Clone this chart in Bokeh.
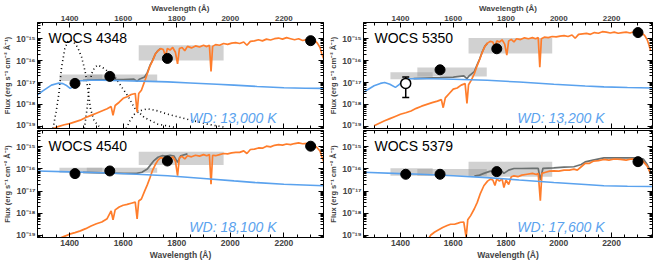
import numpy as np
from bokeh.plotting import figure
from bokeh.models import (Range1d, LinearAxis, LogAxis, FixedTicker,
                          CustomJSTickFormatter, Label)
from bokeh.layouts import column, row
from bokeh.embed import file_html
from bokeh.resources import INLINE

# ---------------- data ----------------
star_names = ["WOCS 4348", "WOCS 5350", "WOCS 4540", "WOCS 5379"]
wd_labels = ["WD: 13,000 K", "WD: 13,200 K", "WD: 18,100 K", "WD: 17,600 K"]

x_tick_labels = [1400, 1600, 1800, 2000, 2200]

# stellar model spectra (log10 flux)
wave_star = [1300, 1340, 1360, 1380, 1400, 1420, 1440, 1460, 1480, 1500,
             1520, 1540, 1555, 1562, 1570, 1585, 1600, 1615, 1630, 1645,
             1652, 1658, 1668, 1680, 1690, 1700, 1710, 1720, 1730, 1740,
             1750, 1758, 1765, 1775, 1785, 1795, 1803, 1810, 1820, 1830,
             1840, 1855, 1870, 1885, 1900, 1912, 1922, 1928, 1934, 1945,
             1960, 1975, 1990, 2005, 2020, 2035, 2050, 2062, 2075, 2090,
             2105, 2120, 2135, 2150, 2165, 2180, 2195, 2210, 2225, 2240,
             2255, 2270, 2285, 2300, 2315, 2325, 2335, 2342, 2348]
logf_star_4348 = [-19.5, -19.1, -19.0, -18.93, -18.88, -18.8, -18.72, -18.6, -18.5, -18.4,
                  -18.3, -18.2, -18.1, -18.5, -18.05, -17.9, -17.72, -17.65, -17.55, -17.5,
                  -18.35, -17.5, -17.35, -16.95, -16.6, -16.25, -16.0, -15.7, -15.55, -15.45,
                  -15.5, -15.8, -15.45, -15.52, -15.4, -15.62, -16.15, -15.45, -15.4, -15.55,
                  -15.35, -15.42, -15.33, -15.38, -15.3, -15.36, -15.3, -16.5, -15.35, -15.27,
                  -15.3, -15.22, -15.26, -15.2, -15.18, -15.22, -15.15, -15.3, -15.12, -15.1,
                  -15.05, -15.1, -15.02, -15.06, -15.0, -14.97, -15.02, -14.95, -15.0, -15.05,
                  -15.0, -15.08, -15.04, -15.12, -15.08, -15.2, -15.4, -15.7, -15.9]
logf_star_5350 = [-18.97, -18.75, -18.65, -18.55, -18.45, -18.38, -18.3, -18.18, -18.08, -18.0,
                  -17.92, -17.85, -17.78, -18.15, -17.7, -17.5, -17.3, -17.25, -17.12, -17.05,
                  -17.95, -17.1, -16.9, -16.6, -16.25, -15.95, -15.62, -15.35, -15.2, -15.12,
                  -15.15, -15.4, -15.1, -15.15, -15.05, -15.25, -15.75, -15.1, -15.03, -15.15,
                  -15.0, -15.04, -14.96, -15.0, -14.95, -15.0, -14.95, -16.3, -15.0, -14.93,
                  -14.95, -14.9, -14.92, -14.88, -14.86, -14.9, -14.83, -14.98, -14.8, -14.78,
                  -14.76, -14.8, -14.72, -14.75, -14.68, -14.7, -14.74, -14.7, -14.75, -14.72,
                  -14.7, -14.74, -14.68, -14.7, -14.75, -14.85, -15.05, -15.3, -15.55]
logf_star_4540 = [-19.6, -19.3, -19.15, -19.05, -18.95, -18.88, -18.8, -18.7, -18.58, -18.48,
                  -18.4, -18.25, -17.9, -18.3, -17.85, -17.72, -17.64, -17.6, -17.55, -17.5,
                  -18.26, -17.45, -17.36, -17.0, -16.72, -16.4, -16.05, -15.8, -15.6, -15.49,
                  -15.52, -15.8, -15.48, -15.55, -15.45, -15.65, -16.3, -15.48, -15.43, -15.55,
                  -15.4, -15.45, -15.38, -15.42, -15.35, -15.4, -15.35, -16.69, -15.38, -15.4,
                  -15.35, -15.3, -15.32, -15.27, -15.25, -15.25, -15.18, -15.3, -15.12, -15.1,
                  -15.05, -15.06, -14.97, -15.0, -14.93, -14.9, -14.92, -14.87, -14.9, -14.85,
                  -14.82, -14.86, -14.84, -14.97, -14.95, -15.05, -15.19, -15.45, -15.65]
wave_star_5379 = [1500, 1514, 1530, 1545, 1560, 1577, 1590, 1605, 1618, 1628,
                  1640, 1649, 1655, 1666, 1680, 1691, 1703, 1716, 1730, 1741,
                  1750, 1758, 1765, 1775, 1785, 1792, 1800, 1810, 1820, 1830,
                  1845, 1860, 1880, 1900, 1915, 1922, 1930, 1936, 1950, 1965,
                  1981, 2000, 2020, 2040, 2057, 2070, 2085, 2100, 2115, 2130,
                  2150, 2171, 2190, 2210, 2234, 2255, 2275, 2297, 2315, 2335, 2348]
logf_star_5379 = [-19.3, -19.0, -18.85, -18.75, -18.65, -18.56, -18.5, -18.5, -18.45, -18.41,
                  -18.4, -19.1, -18.3, -18.11, -17.8, -17.51, -17.1, -16.76, -16.55, -16.46,
                  -16.5, -16.75, -16.45, -16.55, -16.45, -16.84, -16.5, -16.7, -16.35, -16.31,
                  -16.35, -16.28, -16.24, -16.2, -16.25, -16.2, -17.43, -16.2, -16.15, -16.1,
                  -16.09, -16.1, -16.05, -16.05, -16.01, -16.05, -15.9, -15.75, -15.75, -15.65,
                  -15.62, -15.57, -15.6, -15.55, -15.57, -15.6, -15.55, -15.57, -15.6, -15.87, -16.22]

# white dwarf model spectra (log10 flux)
wave_wd_4348 = [1280, 1300, 1332, 1357, 1375, 1390, 1402, 1412, 1420, 1440, 1480,
                1520, 1600, 1700, 1766, 1850, 1950, 2014, 2100, 2200, 2280, 2348]
logf_wd_4348 = [-17.56, -17.38, -17.12, -17.03, -17.05, -17.15, -17.27, -17.2, -16.97, -16.92, -16.9,
                -16.9, -16.92, -16.95, -16.97, -17.02, -17.08, -17.12, -17.18, -17.24, -17.26, -17.27]
wave_wd_5350 = [1260, 1274, 1300, 1324, 1340, 1360, 1381, 1395, 1413, 1440,
                1476, 1600, 1729, 1850, 1981, 2100, 2171, 2260, 2355]
logf_wd_5350 = [-17.45, -17.34, -17.15, -17.04, -17.0, -17.08, -17.22, -17.1, -16.85, -16.83,
                -16.82, -16.85, -16.9, -16.98, -17.08, -17.16, -17.2, -17.23, -17.25]
wave_wd_4540 = [1280, 1400, 1518, 1650, 1766, 1900, 2014, 2100, 2200, 2348]
logf_wd_4540 = [-16.09, -16.13, -16.17, -16.24, -16.31, -16.43, -16.54, -16.62, -16.69, -16.76]
wave_wd_5379 = [1260, 1400, 1476, 1600, 1729, 1850, 1981, 2100, 2171, 2260, 2355]
logf_wd_5379 = [-16.15, -16.21, -16.24, -16.31, -16.39, -16.5, -16.61, -16.7, -16.76, -16.78, -16.79]

# combined (WD + star) model (log10 flux)
wave_sum_4348 = [1450, 1500, 1550, 1600, 1640, 1652, 1660, 1680, 1690, 1700, 1710, 1720, 1730, 1740]
logf_sum_4348 = [-16.9, -16.88, -16.87, -16.87, -16.85, -16.95, -16.85, -16.75, -16.55, -16.22,
                 -15.98, -15.7, -15.54, -15.44]
wave_sum_5350 = [1450, 1500, 1550, 1600, 1640, 1652, 1660, 1680, 1690, 1700, 1710, 1720, 1730]
logf_sum_5350 = [-16.82, -16.8, -16.78, -16.75, -16.7, -16.82, -16.7, -16.5, -16.2, -15.93,
                 -15.6, -15.34, -15.2]
wave_sum_4540 = [1450, 1520, 1600, 1650, 1670, 1690, 1700, 1715, 1730, 1745, 1760, 1775,
                 1790, 1803, 1815, 1840]
logf_sum_4540 = [-16.15, -16.18, -16.2, -16.2, -16.15, -16.0, -15.85, -15.62, -15.47, -15.4,
                 -15.42, -15.38, -15.42, -15.7, -15.4, -15.32]
wave_sum_5379 = [1680, 1700, 1716, 1741, 1760, 1780, 1792, 1810, 1830, 1860, 1900, 1922, 1930,
                 1940, 1981, 2020, 2057, 2085, 2100, 2130, 2171, 2234, 2297, 2320, 2335, 2348]
logf_sum_5379 = [-16.32, -16.28, -16.2, -16.1, -16.15, -16.05, -16.2, -16.05, -15.98, -15.98,
                 -15.97, -15.97, -16.5, -15.97, -15.95, -15.92, -15.9, -15.8, -15.68, -15.6,
                 -15.5, -15.5, -15.5, -15.55, -15.8, -16.1]

# filter band extents (Angstrom) and their flux boxes (log10)
band_lo = [1362, 1464, 1658]
band_hi = [1522, 1727, 1975]
box_bottom_4348 = [-16.93, -16.93, -16.0]
box_top_4348 = [-16.63, -16.63, -15.3]
box_bottom_5350 = [-16.85, -16.72, -15.67]
box_top_5350 = [-16.53, -16.31, -14.97]
box_bottom_4540 = [-16.17, -16.17, -15.82]
box_top_4540 = [-15.94, -15.94, -15.22]
box_bottom_5379 = [-16.31, -16.31, -16.35]
box_top_5379 = [-15.97, -16.0, -15.67]

# photometry
phot_wave = [1420, 1550, 1765, 2300]
phot_4348 = [-17.04, -16.72, -15.9, -15.09]
phot_5350 = [-17.04, -16.42, -15.46, -14.72]
phot_5350_open = [True, False, False, False]
phot_5350_err_lo = [-17.68, None, None, None]
phot_5350_err_hi = [-16.75, None, None, None]
phot_4540 = [-16.21, -16.09, -15.64, -14.97]
phot_5379 = [-16.24, -16.24, -16.12, -15.67]

# filter transmission curves (panel 1, dotted)
trans1_wave = [1338, 1350, 1360, 1370, 1382, 1394, 1405, 1415, 1430, 1445, 1458, 1468, 1478, 1490, 1505, 1520]
trans1_logf = [-19.1, -18.3, -17.5, -16.3, -15.45, -15.1, -15.08, -15.15, -15.4, -15.85, -16.5, -17.3, -18.2, -18.7, -18.95, -19.1]
trans2_wave = [1455, 1465, 1472, 1482, 1494, 1506, 1531, 1569, 1594, 1619, 1642, 1679, 1729, 1791]
trans2_logf = [-19.1, -18.2, -17.3, -16.6, -16.3, -16.2, -16.38, -16.75, -17.2, -17.64, -18.16, -18.6, -18.9, -19.04]
trans3_wave = [1611, 1625, 1642, 1665, 1692, 1730, 1766, 1840, 1915, 1977]
trans3_logf = [-19.1, -18.75, -18.45, -18.28, -18.2, -18.3, -18.45, -18.68, -18.9, -19.04]

# ---------------- styling ----------------
FONT = "Liberation Sans"
ORANGE = "#ff7d2b"
BLUE = "#5aa2ee"
GRAYLINE = "#6b7070"
BOXFILL = "#9a9a9a"

YLO, YHI = 10 ** -19.1, 10 ** -14.26
XR_LEFT = (1280, 2348)
XR_RIGHT = (1260, 2355)

sup_js = """
const e = Math.round(Math.log10(tick));
const s = {"-":"\u207b","0":"\u2070","1":"\u00b9","2":"\u00b2","3":"\u00b3","4":"\u2074",
           "5":"\u2075","6":"\u2076","7":"\u2077","8":"\u2078","9":"\u2079"};
return "10" + String(e).split("").map(c => s[c]).join("");
"""

y_major = [10.0 ** e for e in range(-20, -13)]
y_minor = [m * 10.0 ** e for e in range(-20, -13) for m in range(2, 10)]
x_minor = list(range(1250, 2400, 50))

FLUX_LABEL = "Flux (erg s\u207b\u00b9 cm\u207b\u00b2 \u00c5\u207b\u00b9)"
WAVE_LABEL = "Wavelength (\u00c5)"


def style_axis(ax, labels, title=None, tick_standoff=2, title_standoff=1, size="8.5px"):
    ax.major_tick_in = 5
    ax.major_tick_out = 0
    ax.minor_tick_in = 3
    ax.minor_tick_out = 0
    ax.axis_line_color = "black"
    ax.major_tick_line_color = "black"
    ax.minor_tick_line_color = "black"
    if labels:
        ax.major_label_text_font = FONT
        ax.major_label_text_font_size = size
        ax.major_label_text_font_style = "bold"
        ax.major_label_standoff = tick_standoff
        ax.axis_label = title
        ax.axis_label_text_font = FONT
        ax.axis_label_text_font_size = size
        ax.axis_label_text_font_style = "bold"
        ax.axis_label_standoff = title_standoff
    else:
        ax.major_label_text_font_size = "1px"
        ax.major_label_text_alpha = 0
        ax.major_label_standoff = 0
        ax.axis_label = None


def lg(vals):
    return [10.0 ** v for v in vals]


def make_panel(idx, top, left):
    xr = XR_LEFT if left else XR_RIGHT
    w = 325 if left else 328
    h = 129 if top else 133
    p = figure(width=w, height=h, x_range=Range1d(*xr), y_range=Range1d(YLO, YHI),
               y_axis_type="log", x_axis_location="above" if top else "below",
               output_backend="svg", toolbar_location=None,
               min_border_left=36 if left else 38, min_border_right=2 if left else 1,
               min_border_top=21 if top else 1, min_border_bottom=1 if top else 24)
    p.xgrid.visible = False
    p.ygrid.visible = False
    p.outline_line_color = "black"
    p.background_fill_color = "white"
    p.border_fill_color = "white"

    xt = FixedTicker(ticks=x_tick_labels, minor_ticks=x_minor)
    yt = FixedTicker(ticks=y_major, minor_ticks=y_minor)
    fmt = CustomJSTickFormatter(code=sup_js)

    for ax in p.xaxis:
        ax.ticker = xt
        if top:
            style_axis(ax, True, WAVE_LABEL, tick_standoff=2, title_standoff=0, size="8px")
        else:
            style_axis(ax, True, WAVE_LABEL)
    for ax in p.yaxis:
        ax.ticker = yt
        ax.formatter = fmt
        style_axis(ax, True, FLUX_LABEL)
        ax.axis_label_text_font_size = "7.5px"

    ax2 = LinearAxis(ticker=xt)
    style_axis(ax2, False)
    p.add_layout(ax2, "below" if top else "above")
    ay2 = LogAxis(ticker=yt)
    style_axis(ay2, False)
    p.add_layout(ay2, "right")
    return p


panels = []
specs = [
    (0, True, True, wave_star, logf_star_4348, wave_wd_4348, logf_wd_4348, wave_sum_4348, logf_sum_4348,
     box_bottom_4348, box_top_4348, phot_4348),
    (1, True, False, wave_star, logf_star_5350, wave_wd_5350, logf_wd_5350, wave_sum_5350, logf_sum_5350,
     box_bottom_5350, box_top_5350, phot_5350),
    (2, False, True, wave_star, logf_star_4540, wave_wd_4540, logf_wd_4540, wave_sum_4540, logf_sum_4540,
     box_bottom_4540, box_top_4540, phot_4540),
    (3, False, False, wave_star_5379, logf_star_5379, wave_wd_5379, logf_wd_5379, wave_sum_5379, logf_sum_5379,
     box_bottom_5379, box_top_5379, phot_5379),
]

for (idx, top, left, ws, fs, ww, fw, wsum, fsum, bb, bt, ph) in specs:
    p = make_panel(idx, top, left)
    p.quad(left=band_lo, right=band_hi, bottom=lg(bb), top=lg(bt),
           fill_color=BOXFILL, fill_alpha=0.45, line_color=None)
    if idx == 0:
        for tw, tf in [(trans1_wave, trans1_logf), (trans2_wave, trans2_logf), (trans3_wave, trans3_logf)]:
            p.line(tw, lg(tf), line_color="black", line_width=1.6, line_dash="1 3")
    p.line(wsum, lg(fsum), line_color=GRAYLINE, line_width=1.7)
    p.line(ws, lg(fs), line_color=ORANGE, line_width=1.7)
    p.line(ww, lg(fw), line_color=BLUE, line_width=1.6)

    if idx == 1:
        fx = [w for w, o in zip(phot_wave, phot_5350_open) if not o]
        fy = [v for v, o in zip(ph, phot_5350_open) if not o]
        ox = [w for w, o in zip(phot_wave, phot_5350_open) if o]
        oy = [v for v, o in zip(ph, phot_5350_open) if o]
        elo = [v for v, o in zip(phot_5350_err_lo, phot_5350_open) if o]
        ehi = [v for v, o in zip(phot_5350_err_hi, phot_5350_open) if o]
        p.segment(x0=ox, x1=ox, y0=lg(elo), y1=lg(ehi), line_color="black", line_width=1.5)
        p.scatter(ox + ox, lg(elo) + lg(ehi), marker="dash", size=7, line_color="black", line_width=1.5)
        p.scatter(ox, lg(oy), marker="circle", size=10, fill_color="white", line_color="black", line_width=1.5)
        p.scatter(fx, lg(fy), marker="circle", size=10, fill_color="black", line_color="black")
    else:
        p.scatter(phot_wave, lg(ph), marker="circle", size=10, fill_color="black", line_color="black")

    fh = 107 if top else 108
    fw_ = 287 if left else 289
    p.add_layout(Label(x=11, y=fh - 16, x_units="screen", y_units="screen", text=star_names[idx],
                       text_font=FONT, text_font_size="14px", text_baseline="alphabetic",
                       text_color="black"))
    p.add_layout(Label(x=fw_ - 48, y=11, x_units="screen", y_units="screen", text=wd_labels[idx],
                       text_font=FONT, text_font_size="14px", text_font_style="italic",
                       text_align="right", text_baseline="alphabetic", text_color=BLUE))
    panels.append(p)

layout = column(row(panels[0], panels[1]), row(panels[2], panels[3]))

open("out.html", "w").write(file_html(layout, INLINE))
